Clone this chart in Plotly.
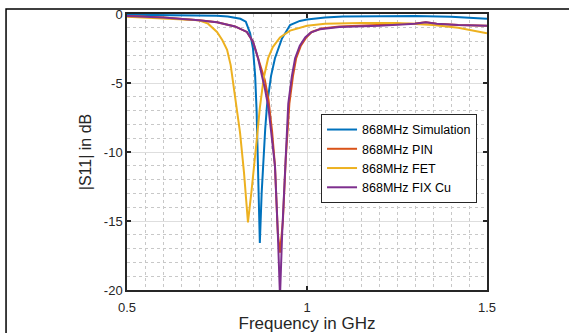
import plotly.graph_objects as go

# ---- data ----
sim_f = [0.50, 0.60, 0.70, 0.75, 0.78, 0.80, 0.815, 0.83, 0.842, 0.85, 0.856, 0.86, 0.863, 0.869,
         0.874, 0.878, 0.884, 0.889, 0.90, 0.911, 0.93, 0.953, 0.98, 1.00, 1.05, 1.10, 1.20, 1.30, 1.40, 1.50]
sim_db = [-0.05, -0.06, -0.08, -0.12, -0.18, -0.25, -0.35, -0.55, -1.4, -2.5, -4.5, -7.0, -10.0, -16.6,
          -13.0, -11.0, -8.3, -6.6, -4.5, -3.2, -1.8, -0.8, -0.5, -0.4, -0.25, -0.18, -0.15, -0.15, -0.2, -0.35]

pin_f = [0.50, 0.60, 0.70, 0.75, 0.80, 0.833, 0.85, 0.864, 0.875, 0.883, 0.893, 0.903, 0.911, 0.919, 0.925,
         0.933, 0.941, 0.951, 0.961, 0.97, 0.983, 0.998, 1.013, 1.04, 1.09, 1.20, 1.30, 1.33, 1.36, 1.42, 1.50]
pin_db = [-0.15, -0.25, -0.45, -0.6, -0.9, -1.3, -2.0, -3.2, -4.2, -4.8, -6.2, -8.5, -11.0, -15.9, -17.3,
          -15.0, -10.5, -6.5, -4.5, -3.2, -2.3, -1.7, -1.3, -1.05, -0.9, -0.8, -0.68, -0.6, -0.7, -0.8, -0.85]

fet_f = [0.50, 0.60, 0.65, 0.70, 0.725, 0.75, 0.765, 0.778, 0.788, 0.795, 0.805, 0.814, 0.825, 0.836,
         0.846, 0.856, 0.862, 0.869, 0.88, 0.892, 0.905, 0.925, 0.953, 1.00, 1.05, 1.15, 1.25, 1.35, 1.42, 1.50]
fet_db = [-0.2, -0.3, -0.35, -0.45, -0.7, -1.3, -1.9, -2.6, -3.7, -5.0, -6.8, -8.6, -11.5, -15.1,
          -12.8, -10.5, -8.7, -6.8, -4.6, -3.2, -2.4, -1.7, -1.2, -0.85, -0.7, -0.65, -0.65, -0.8, -1.0, -1.4]

fix_f = [0.50, 0.60, 0.70, 0.75, 0.80, 0.833, 0.85, 0.864, 0.875, 0.883, 0.893, 0.903, 0.911, 0.919, 0.925,
         0.931, 0.939, 0.948, 0.958, 0.967, 0.98, 0.995, 1.01, 1.036, 1.09, 1.20, 1.30, 1.33, 1.36, 1.42, 1.50]
fix_db = [-0.15, -0.25, -0.45, -0.6, -0.9, -1.3, -2.0, -3.2, -4.5, -5.4, -6.8, -9.0, -11.0, -15.9, -20.5,
          -15.9, -11.0, -6.5, -4.5, -3.2, -2.3, -1.7, -1.35, -1.1, -0.95, -0.85, -0.7, -0.6, -0.7, -0.8, -0.85]

names = ["868MHz Simulation", "868MHz PIN", "868MHz FET", "868MHz FIX Cu"]
colors = ["#0072BD", "#D95319", "#EDB120", "#7E2F8E"]

x_ticks = [0.5, 1, 1.5]
x_ticklabels = ["0.5", "1", "1.5"]
y_ticks = [-20, -15, -10, -5, 0]
y_ticklabels = ["-20", "-15", "-10", "-5", "0"]

fig = go.Figure()
for f, d, n, c in zip([sim_f, pin_f, fet_f, fix_f], [sim_db, pin_db, fet_db, fix_db], names, colors):
    fig.add_trace(go.Scatter(x=f, y=d, mode="lines", name=n, line=dict(color=c, width=2)))

FONT = "Liberation Sans, Arial, sans-serif"
axis_common = dict(
    showline=True, linecolor="#262626", linewidth=1.5, mirror="ticks",
    ticks="inside", ticklen=4, tickcolor="#262626", tickwidth=1.5,
    showgrid=True, gridcolor="#dedede", gridwidth=1,
    zeroline=False, automargin=False,
    tickfont=dict(family=FONT, size=13, color="#262626"),
)

fig.update_xaxes(
    range=[0.5, 1.5], tickvals=x_ticks, ticktext=x_ticklabels,
    ticklabelstandoff=5,
    title=dict(text="Frequency in GHz", standoff=8, font=dict(family=FONT, size=17, color="#262626")),
    minor=dict(dtick=0.05, tick0=0.5, showgrid=True, gridcolor="#c8c8c8", griddash="dot", gridwidth=1, ticks=""),
    **axis_common,
)
fig.update_yaxes(
    range=[-20, 0], tickvals=y_ticks, ticktext=y_ticklabels,
    title=dict(text="|S11| in dB", standoff=8, font=dict(family=FONT, size=16, color="#262626")),
    minor=dict(dtick=1, tick0=0, showgrid=True, gridcolor="#c8c8c8", griddash="dot", gridwidth=1, ticks=""),
    **axis_common,
)

fig.add_shape(type="rect", xref="paper", yref="paper", x0=-0.336, x1=1.3, y0=-0.3, y1=1.018,
              line=dict(color="black", width=1.5), fillcolor="rgba(0,0,0,0)", layer="below")

fig.update_layout(
    width=569, height=333,
    margin=dict(l=127, r=82, t=14, b=43, autoexpand=False),
    paper_bgcolor="white", plot_bgcolor="white",
    font=dict(family=FONT, color="#262626"),
    legend=dict(x=0.539, y=0.638, xanchor="left", yanchor="top",
                bgcolor="white", bordercolor="#262626", borderwidth=1,
                font=dict(size=12.5, color="black"), itemwidth=30, tracegroupgap=0),
    showlegend=True,
)

fig.write_html("out.html", config={"displayModeBar": False},
               post_script="document.body.style.margin='0';document.body.style.overflow='hidden';")
